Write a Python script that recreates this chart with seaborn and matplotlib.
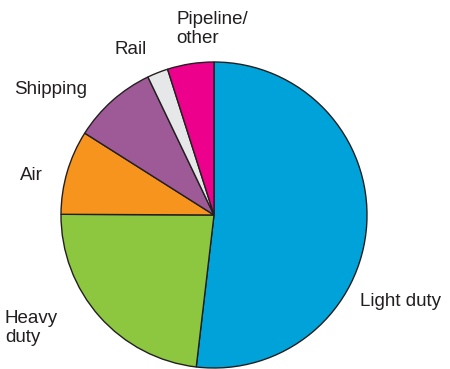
import matplotlib
matplotlib.use("Agg")
import matplotlib.pyplot as plt
import seaborn as sns

categories = ["Light duty", "Heavy duty", "Air", "Shipping", "Rail", "Pipeline/\nother"]
shares = [51.8, 23.2, 8.9, 8.9, 2.2, 4.9]
colors = ["#00A3D9", "#8DC63F", "#F7941E", "#9E5A97", "#E6E7E8", "#EC008C"]

# label positions in pixels (left x, center y) for the reference layout
label_px = {
    "Light duty": (360, 301),
    "Heavy duty": (5, 328),
    "Air": (20, 175),
    "Shipping": (14, 90),
    "Rail": (115, 50),
    "Pipeline/\nother": (176, 29),
}
label_text = {
    "Light duty": "Light duty",
    "Heavy duty": "Heavy\nduty",
    "Air": "Air",
    "Shipping": "Shipping",
    "Rail": "Rail",
    "Pipeline/\nother": "Pipeline/\nother",
}

sns.set_theme(style="white")
plt.rcParams["font.family"] = ["Liberation Sans", "DejaVu Sans"]

W, H = 450, 369
fig = plt.figure(figsize=(W / 100, H / 100), dpi=100)
cx, cy, r = 214, 215, 153
ax = fig.add_axes([(cx - r) / W, 1 - (cy + r) / H, 2 * r / W, 2 * r / H])
ax.pie(shares, colors=colors, startangle=90, counterclock=False,
       wedgeprops=dict(edgecolor="#231F20", linewidth=1.0))
ax.set_xlim(-1, 1)
ax.set_ylim(-1, 1)
ax.set_aspect("equal")
ax.axis("off")

for cat in categories:
    x, y = label_px[cat]
    fig.text(x / W, 1 - y / H, label_text[cat], ha="left", va="center",
             fontsize=13.5, color="#231F20", linespacing=1.2)

fig.savefig("out.png", dpi=100, facecolor="white")
